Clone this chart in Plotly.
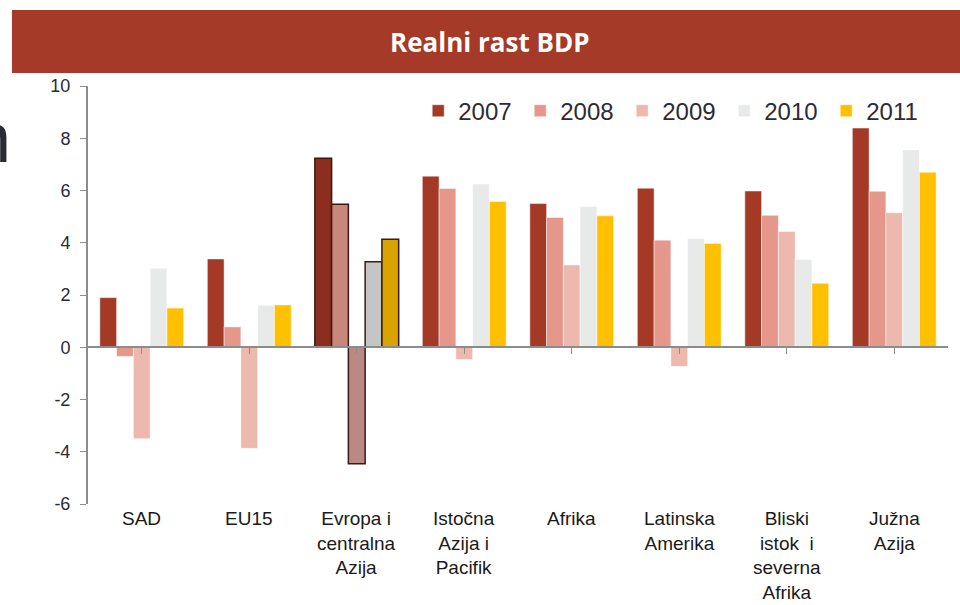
import plotly.graph_objects as go

categories = ["SAD", "EU15", "Evropa i<br>centralna<br>Azija", "Istočna<br>Azija i<br>Pacifik",
              "Afrika", "Latinska<br>Amerika", "Bliski<br>istok  i<br>severna<br>Afrika", "Južna<br>Azija"]
years = ["2007", "2008", "2009", "2010", "2011"]

g2007 = [1.9, 3.38, 7.23, 6.55, 5.5, 6.09, 5.98, 8.39]
g2008 = [-0.35, 0.78, 5.47, 6.08, 4.97, 4.1, 5.05, 5.97]
g2009 = [-3.5, -3.87, -4.46, -0.47, 3.15, -0.73, 4.43, 5.15]
g2010 = [3.02, 1.61, 3.27, 6.25, 5.39, 4.16, 3.36, 7.55]
g2011 = [1.5, 1.62, 4.13, 5.58, 5.03, 3.97, 2.45, 6.7]

y_ticks = [-6, -4, -2, 0, 2, 4, 6, 8, 10]

colors = ["#A43A26", "#E4978A", "#EDB8AE", "#E8EAE9", "#FFC000"]
# darker "bevelled" look used for the Evropa i centralna Azija group
bevel = ["#8B2E1F", "#C9877C", "#B98A84", "#C4C6C5", "#D9A300"]
highlight = 2

label_font = "Liberation Sans Narrow, Arial Narrow, Liberation Sans, Arial, sans-serif"

fig = go.Figure()
for name, vals, c, b in zip(years, [g2007, g2008, g2009, g2010, g2011], colors, bevel):
    fig.add_trace(go.Bar(
        x=list(range(len(categories))), y=vals, name=name,
        marker=dict(
            color=[b if i == highlight else c for i in range(len(vals))],
            line=dict(color=["#3a1a12" if i == highlight else "rgba(255,255,255,0.6)" for i in range(len(vals))],
                      width=[1.5 if i == highlight else 0.8 for i in range(len(vals))]),
        ),
    ))

for i, cat in enumerate(categories):
    fig.add_annotation(x=i, y=0, xref="x", yref="paper", text=cat, showarrow=False,
                       yanchor="top", yshift=-2, align="center",
                       font=dict(family=label_font, size=19, color="#1a1a1a"))

# title banner
fig.add_shape(type="rect", xref="paper", yref="paper", x0=-0.0884, x1=1.02, y0=1.031, y1=1.182,
              fillcolor="#A43A27", line=dict(width=0), layer="above")
fig.add_annotation(x=0.467, y=1.106, xref="paper", yref="paper", text="<b>Realni rast BDP</b>",
                   showarrow=False, xanchor="center", yanchor="middle",
                   font=dict(family="Open Sans, sans-serif", size=26, color="white"))
# piece of slide text cut off at the left edge
fig.add_annotation(x=-0.0872, y=0.876, xref="paper", yref="paper", text="n", showarrow=False,
                   xanchor="right", yanchor="middle",
                   font=dict(family="Liberation Sans, Arial, sans-serif", size=70, color="#2b2b35"))

fig.update_layout(
    width=960, height=605,
    margin=dict(l=88, r=12, t=86, b=101, autoexpand=False),
    paper_bgcolor="white", plot_bgcolor="white",
    barmode="group", bargap=0.22, bargroupgap=0,
    font=dict(family="Liberation Sans, Arial, sans-serif", color="#333333"),
    legend=dict(orientation="h", x=0.977, y=0.94, xanchor="right", yanchor="middle",
                font=dict(size=24, color="#2b2b35"), entrywidth=57, entrywidthmode="pixels",
                bgcolor="rgba(0,0,0,0)", traceorder="normal"),
    showlegend=True,
)
fig.update_yaxes(range=[-6, 10], tickmode="array", tickvals=y_ticks, ticktext=[str(v) for v in y_ticks],
                 showgrid=False, zeroline=False,
                 showline=True, linecolor="#8c8c8c", linewidth=2,
                 ticks="outside", ticklen=6, tickcolor="#8c8c8c", ticklabelstandoff=6,
                 tickfont=dict(size=18, color="#2b2b35"))
fig.update_xaxes(range=[-0.5, len(categories) - 0.5], showgrid=False, zeroline=False,
                 anchor="free", position=0.375, showline=True, linecolor="#8c8c8c", linewidth=2,
                 ticks="outside", ticklen=6, tickcolor="#8c8c8c", tickmode="array",
                 tickvals=list(range(len(categories))), tickson="boundaries", showticklabels=False)

# the page's default body margin would push the figure 8px off the window
fig.write_html("out.html", config={"displayModeBar": False},
               post_script="document.body.style.margin='0';")
